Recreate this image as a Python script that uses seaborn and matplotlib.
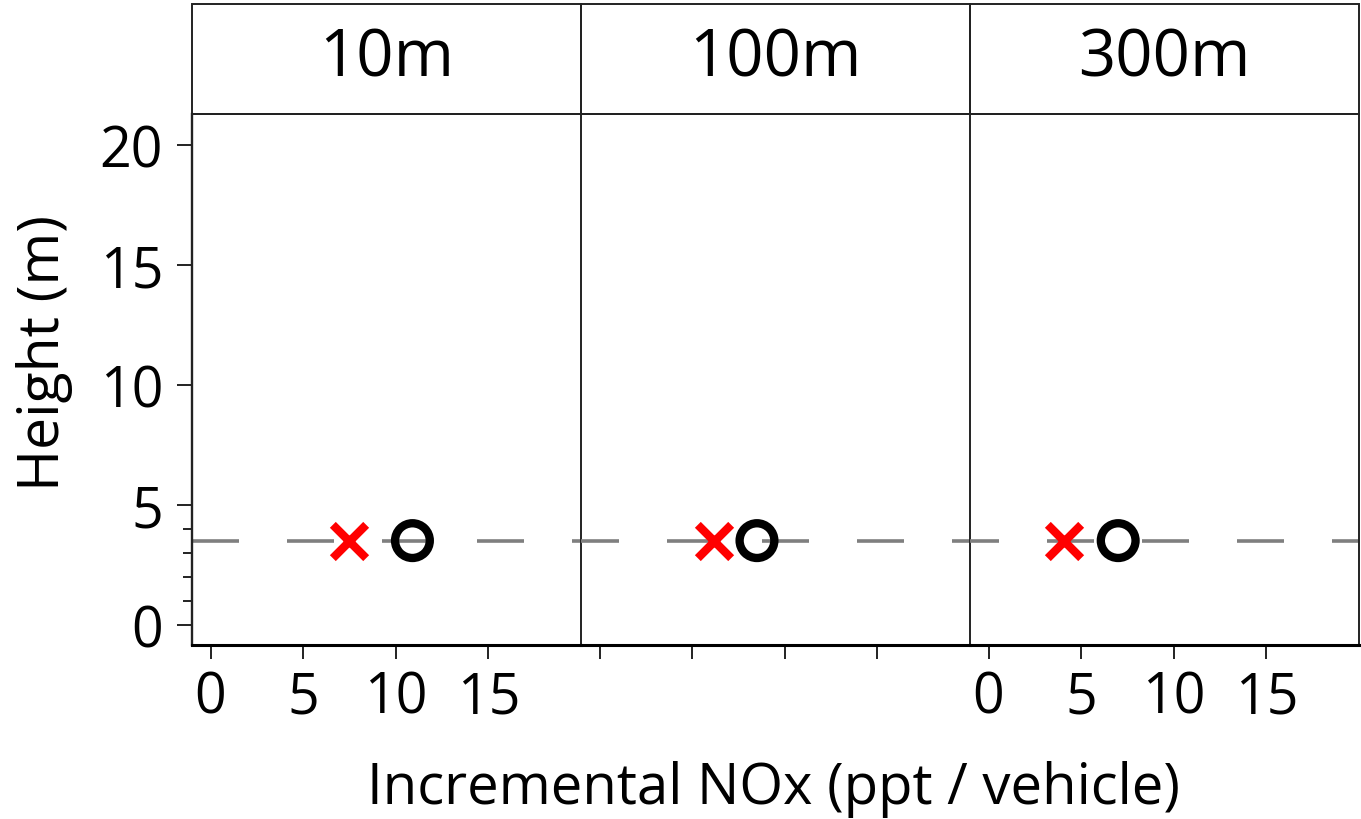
import matplotlib
matplotlib.use("Agg")
import matplotlib.pyplot as plt
import pandas as pd
import seaborn as sns
from matplotlib.patches import Rectangle
from matplotlib.ticker import FixedLocator

# Panel categories (distance from the road) and the two estimates per panel
distances = ["10m", "100m", "300m"]
model_nox = [7.5, 6.2, 4.1]        # red crosses
observed_nox = [10.9, 8.5, 7.0]    # black open circles
sample_height = 3.5                # measurement height (m), dashed reference
x_ticks = [0, 5, 10, 15]
y_ticks = [0, 5, 10, 15, 20]
y_minor_ticks = [1, 2, 3, 4]

sns.set_theme(style="ticks")
plt.rcParams["font.family"] = ["Open Sans", "DejaVu Sans"]
plt.rcParams["lines.scale_dashes"] = False
plt.rcParams["text.color"] = "black"
plt.rcParams["xtick.labelcolor"] = "black"
plt.rcParams["ytick.labelcolor"] = "black"

df = pd.DataFrame({
    "distance": distances * 2,
    "source": ["model"] * 3 + ["observed"] * 3,
    "nox": model_nox + observed_nox,
    "height": [sample_height] * 6,
})

W, H = 1361, 820
fig, axes = plt.subplots(1, 3, figsize=(W / 100, H / 100), dpi=100, sharey=True)
fig.subplots_adjust(left=192 / W, right=1359 / W, bottom=1 - 646 / H,
                    top=1 - 115 / H, wspace=0)
strip_h = (115 - 5) / (646 - 115)

px = 0.72  # points per pixel at 100 dpi
dash_on, dash_off = 47 * px, 48 * px
period = dash_on + dash_off
panel_w = (1359 - 192) / 3
thin = 1.4
edge = "#222222"

for i, (ax, dist) in enumerate(zip(axes, distances)):
    sub = df[df["distance"] == dist]
    ax.patch.set_visible(False)  # keep neighbouring panel borders uncovered
    ax.set_xlim(-1, 20)
    ax.set_ylim(-0.85, 21.28)

    # dashed reference line, with the dash pattern running on across panels
    offset = (i * panel_w * px) % period
    ax.axhline(sample_height, color="#7f7f7f", lw=2.6,
               linestyle=(offset, (dash_on, dash_off)), zorder=1)

    sns.scatterplot(data=sub[sub["source"] == "model"], x="nox", y="height",
                    marker="x", s=24 ** 2, color="red", linewidth=6,
                    ax=ax, zorder=3, legend=False)
    sns.scatterplot(data=sub[sub["source"] == "observed"], x="nox", y="height",
                    marker="o", s=25 ** 2, facecolor="none", edgecolor="black",
                    linewidth=6, ax=ax, zorder=4, legend=False)

    ax.set_xlabel("")
    ax.set_ylabel("")
    ax.set_xticks(x_ticks)
    ax.tick_params(axis="x", direction="out", length=10, width=1.4,
                   pad=8, labelsize=40, color=edge,
                   labelbottom=(i != 1))

    for side in ["top", "right", "left"]:
        ax.spines[side].set_linewidth(thin)
        ax.spines[side].set_color(edge)
    ax.spines["bottom"].set_linewidth(2.2)
    ax.spines["bottom"].set_color("black")
    if i > 0:
        ax.spines["left"].set_visible(False)
        ax.tick_params(axis="y", which="both", left=False)
    else:
        ax.spines["left"].set_linewidth(1.7)

    # facet strip
    ax.add_patch(Rectangle((0, 1), 1, strip_h, transform=ax.transAxes,
                           facecolor="none", edgecolor=edge, lw=thin,
                           clip_on=False))
    ax.text(0.5, 1 + strip_h / 2, dist, transform=ax.transAxes,
            ha="center", va="center", fontsize=47)

ax0 = axes[0]
ax0.set_yticks(y_ticks)
ax0.yaxis.set_minor_locator(FixedLocator(y_minor_ticks))
ax0.tick_params(axis="y", which="major", direction="out", length=10.8,
                width=1.4, pad=10, labelsize=40, color=edge)
ax0.tick_params(axis="y", which="minor", direction="out", length=6.5,
                width=1.4, color=edge, left=True)

fig.text(773 / W, 1 - 790 / H, "Incremental NOx (ppt / vehicle)",
         ha="center", va="center", fontsize=40.5)
fig.text(45 / W, 1 - 353 / H, "Height (m)", ha="center", va="center",
         rotation=90, fontsize=41)

fig.savefig("out.png", dpi=100)
